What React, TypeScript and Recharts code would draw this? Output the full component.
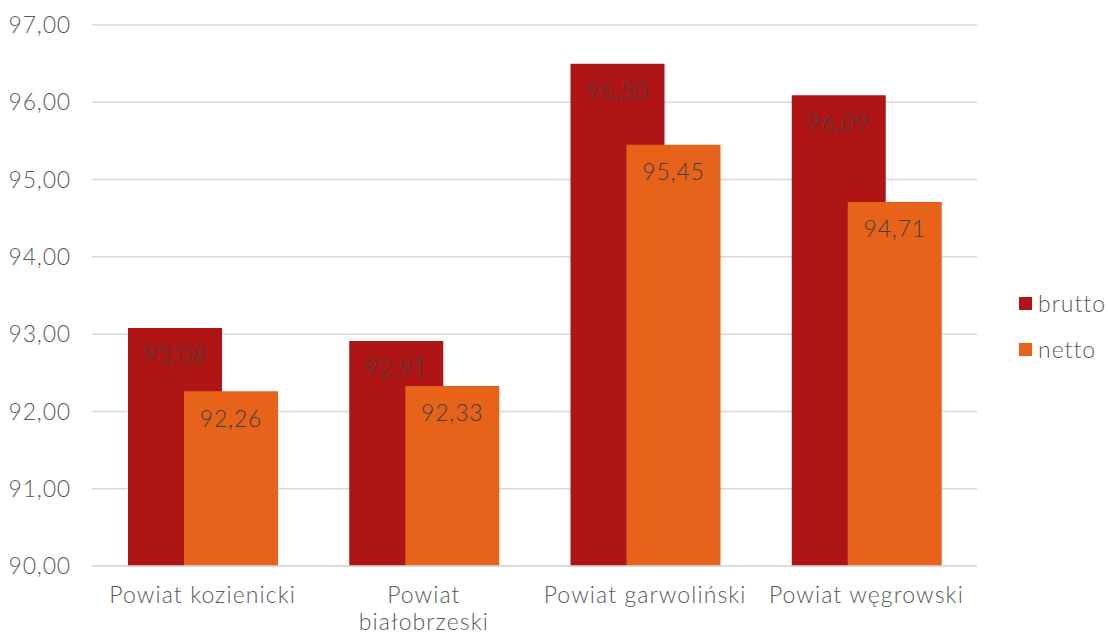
import { BarChart, Bar, XAxis, YAxis, CartesianGrid, LabelList } from "recharts";

const categories = ["Powiat kozienicki", "Powiat\nbiałobrzeski", "Powiat garwoliński", "Powiat węgrowski"];
const brutto = [93.08, 92.91, 96.5, 96.09];
const netto = [92.26, 92.33, 95.45, 94.71];
const yTicks = [90, 91, 92, 93, 94, 95, 96, 97];
const series = [
  { key: "brutto", name: "brutto", color: "#B01516" },
  { key: "netto", name: "netto", color: "#E8631A" },
];

const chartData = categories.map((name, i) => ({ name, brutto: brutto[i], netto: netto[i] }));

const FONT = "Lato, 'Noto Sans', sans-serif";
const TEXT = "#595959";
const fmt = (v: number) => v.toFixed(2).replace(".", ",");

const CategoryTick = ({ x, y, payload }: any) => {
  const lines = String(payload.value).split("\n");
  return (
    <text x={x} y={y} textAnchor="middle" fill={TEXT} fontSize={23} fontWeight={300} fontFamily={FONT} letterSpacing={1.1}>
      {lines.map((line, i) => (
        <tspan key={i} x={x} dy={i === 0 ? 29 : 27}>{line}</tspan>
      ))}
    </text>
  );
};

export default function App() {
  return (
    <div style={{ position: "absolute", left: 0, top: 0, width: 1108, height: 634, background: "#fff", overflow: "hidden" }}>
      <BarChart
        width={1108}
        height={634}
        data={chartData}
        margin={{ top: 25, right: 131, left: 0, bottom: 0 }}
        barSize={94}
        barGap={-38}
        barCategoryGap={0}
      >
        <CartesianGrid vertical={false} stroke="#d9d9d9" strokeWidth={1.5} />
        <XAxis
          dataKey="name"
          tick={<CategoryTick />}
          tickLine={false}
          axisLine={{ stroke: "#d9d9d9", strokeWidth: 1.5 }}
          interval={0}
          height={68}
        />
        <YAxis
          domain={[90, 97]}
          ticks={yTicks}
          width={92}
          tickFormatter={fmt}
          tickLine={false}
          axisLine={false}
          tick={{ fill: TEXT, fontSize: 23, fontWeight: 300, fontFamily: FONT, letterSpacing: 0.8 }}
          tickMargin={15}
        />
        {series.map((s) => (
          <Bar key={s.key} dataKey={s.key} name={s.name} fill={s.color} isAnimationActive={false}>
            <LabelList
              dataKey={s.key}
              position="insideTop"
              offset={19}
              formatter={fmt}
              fill="#404040"
              fontSize={23}
              fontWeight={300}
              fontFamily={FONT}
              letterSpacing={0.8}
            />
          </Bar>
        ))}
      </BarChart>
      <div style={{ position: "absolute", left: 1019, top: 280, fontFamily: FONT, fontSize: 23, fontWeight: 300, color: TEXT, letterSpacing: 1 }}>
        {series.map((s) => (
          <div key={s.key} style={{ display: "flex", alignItems: "center", height: 46 }}>
            <div style={{ width: 13, height: 13, background: s.color, marginRight: 6 }} />
            <span>{s.name}</span>
          </div>
        ))}
      </div>
    </div>
  );
}
